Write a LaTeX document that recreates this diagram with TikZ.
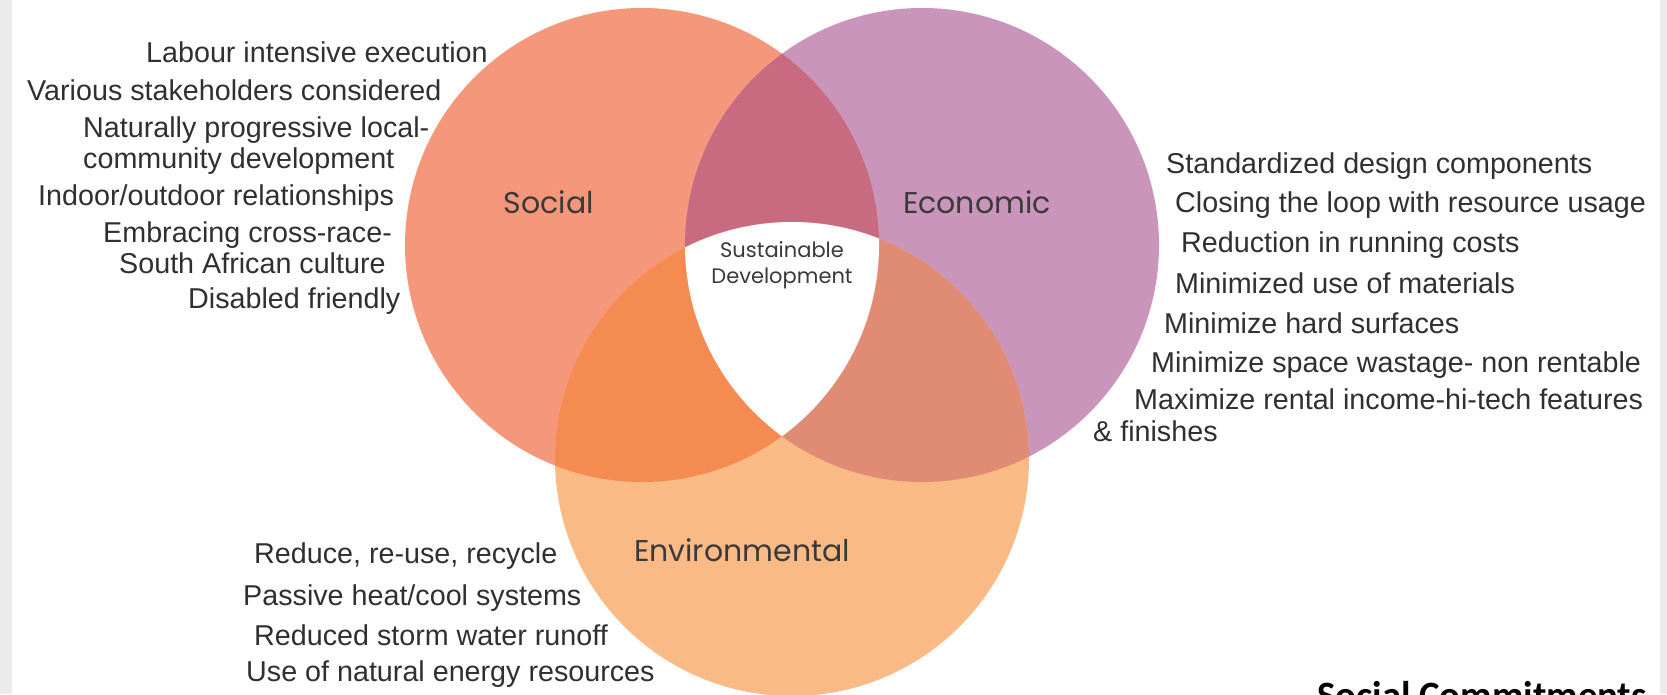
\documentclass[tikz,border=0pt]{standalone}
\usepackage{fontspec}
\setmainfont{Liberation Sans}
\newfontfamily\gothic{Poppins}
\newfontfamily\calib{Carlito}
\definecolor{soc}{HTML}{F4977A}
\definecolor{eco}{HTML}{C995BA}
\definecolor{env}{HTML}{FABA86}
\definecolor{socEco}{HTML}{C86A80}
\definecolor{socEnv}{HTML}{F48B50}
\definecolor{ecoEnv}{HTML}{E08B74}
\definecolor{margin}{HTML}{EBEBEB}
\definecolor{txt}{HTML}{303030}
\definecolor{lbl}{HTML}{3A3A3A}
\begin{document}
\begin{tikzpicture}[x=1pt,y=-1pt,
  item/.style={anchor=base west, inner sep=0pt, text=txt, font=\fontsize{28.7}{34}\selectfont},
  circlbl/.style={anchor=base, inner sep=0pt, text=lbl, font=\gothic\fontsize{30}{36}\selectfont},
  centlbl/.style={anchor=base, inner sep=0pt, text=lbl, font=\gothic\fontsize{21}{26}\selectfont}]
\useasboundingbox (0,0) rectangle (1667,694);
\clip (0,0) rectangle (1667,694);
\fill[white] (0,0) rectangle (1667,694);
\fill[margin] (0,0) rectangle (12,694);
\fill[margin] (1660,0) rectangle (1667,694);
% circles
\fill[soc] (642,245) circle[radius=237pt];
\fill[eco] (922,245) circle[radius=237pt];
\fill[env] (792,459) circle[radius=237pt];
\begin{scope}
  \clip (642,245) circle[radius=237pt];
  \fill[socEco] (922,245) circle[radius=237pt];
\end{scope}
\begin{scope}
  \clip (642,245) circle[radius=237pt];
  \fill[socEnv] (792,459) circle[radius=237pt];
\end{scope}
\begin{scope}
  \clip (922,245) circle[radius=237pt];
  \fill[ecoEnv] (792,459) circle[radius=237pt];
\end{scope}
\begin{scope}
  \clip (642,245) circle[radius=237pt];
  \clip (922,245) circle[radius=237pt];
  \fill[white] (792,459) circle[radius=237pt];
\end{scope}
% circle labels
\node[circlbl] (lsoc) at (549,213) {Social};
\node[circlbl] (leco) at (977,213) {Economic};
\node[circlbl] (lenv) at (742,561) {Environmental};
\node[centlbl] (lsus) at (782,257) {Sustainable};
\node[centlbl] (ldev) at (782,283) {Development};
% social list
\node[item] (s1) at (146,62) {Labour intensive execution};
\node[item] (s2) at (27,100) {Various stakeholders considered};
\node[item] (s3) at (83,137) {Naturally progressive local-};
\node[item] (s4) at (83,168) {community development};
\node[item] (s5) at (38,205) {Indoor/outdoor relationships};
\node[item] (s6) at (103,242) {Embracing cross-race-};
\node[item] (s7) at (119,273) {South African culture};
\node[item] (s8) at (188,308) {Disabled friendly};
% economic list
\node[item] (e1) at (1166,173) {Standardized design components};
\node[item] (e2) at (1175,212) {Closing the loop with resource usage};
\node[item] (e3) at (1181,252) {Reduction in running costs};
\node[item] (e4) at (1175,293) {Minimized use of materials};
\node[item] (e5) at (1164,333) {Minimize hard surfaces};
\node[item] (e6) at (1151,372) {Minimize space wastage- non rentable};
\node[item] (e7) at (1134,409) {Maximize rental income-hi-tech features};
\node[item] (e8) at (1093,441) {\& finishes};
% environmental list
\node[item] (v1) at (254,563) {Reduce, re-use, recycle};
\node[item] (v2) at (243,605) {Passive heat/cool systems};
\node[item] (v3) at (254,645) {Reduced storm water runoff};
\node[item] (v4) at (246,681) {Use of natural energy resources};
% cut-off heading
\node[anchor=base west, inner sep=0pt, text=black, font=\calib\bfseries\fontsize{38.7}{46}\selectfont] (sc) at (1317,708) {Social Commitments};
\end{tikzpicture}
\end{document}
